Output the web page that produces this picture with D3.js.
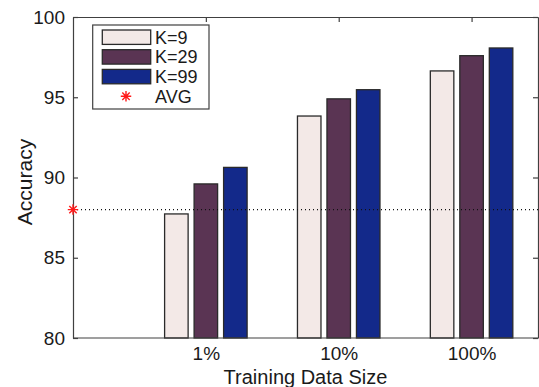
<!DOCTYPE html>
<html><head><meta charset="utf-8">
<script src="https://cdn.jsdelivr.net/npm/d3@7"></script>
<style>body{margin:0;background:#fff}svg{display:block;font-family:"Liberation Sans",Arial,Helvetica,sans-serif}</style>
</head><body><svg id="c" width="539" height="387"></svg>
<script>
const categories = ["1%", "10%", "100%"];
const seriesNames = ["K=9", "K=29", "K=99"];
const k9 = [87.73, 93.83, 96.64];
const k29 = [89.6, 94.9, 97.59];
const k99 = [90.63, 95.47, 98.07];
const avgValue = 88.0;
const yTicks = [80, 85, 90, 95, 100];
const colors = ["#f3e9e7", "#5a3453", "#13298a"];
const seriesValues = [k9, k29, k99];

const svg = d3.select("#c");
const L = 73, R = 538, T = 17, B = 338;
const x = d3.scaleLinear().domain([0, 3.5]).range([L, R]);
const y = d3.scaleLinear().domain([80, 100]).range([B, T]);
const axisColor = "#404040";
const textColor = "#1a1a1a";

// bottom axis ticks (hidden behind bars as in reference) drawn first
const xB = svg.append("g").attr("transform", `translate(0,${B})`)
  .call(d3.axisBottom(x).tickValues([1, 2, 3]).tickFormat((d, i) => categories[i]).tickSizeInner(-5).tickSizeOuter(0).tickPadding(9));

// bars
const offset = 0.222, bw = 0.177;
seriesValues.forEach((vals, s) => {
  svg.append("g").selectAll("rect").data(vals).join("rect")
    .attr("x", (d, i) => x(i + 1 + (s - 1) * offset - bw / 2))
    .attr("width", x(bw) - x(0))
    .attr("y", d => y(d))
    .attr("height", d => y(80) - y(d))
    .attr("fill", colors[s])
    .attr("stroke", "#2a2a2a")
    .attr("stroke-width", 1.3);
});

// avg dotted line
svg.append("line")
  .attr("x1", x(0)).attr("x2", x(3.5))
  .attr("y1", y(avgValue)).attr("y2", y(avgValue))
  .attr("stroke", "#111").attr("stroke-width", 1.1)
  .attr("stroke-dasharray", "1,3");

// asterisk symbol (8 arms)
const star8 = {
  draw(ctx, size) {
    const r = Math.sqrt(size) / 2;
    const d = r * Math.SQRT1_2;
    ctx.moveTo(-r, 0); ctx.lineTo(r, 0);
    ctx.moveTo(0, -r); ctx.lineTo(0, r);
    ctx.moveTo(-d, -d); ctx.lineTo(d, d);
    ctx.moveTo(-d, d); ctx.lineTo(d, -d);
  }
};

// axes
const tickFont = 19;
const yL = svg.append("g").attr("transform", `translate(${L},0)`)
  .call(d3.axisLeft(y).tickValues(yTicks).tickSizeInner(-5).tickSizeOuter(0).tickPadding(8));
const yR = svg.append("g").attr("transform", `translate(${R},0)`)
  .call(d3.axisRight(y).tickValues(yTicks).tickSizeInner(-5).tickSizeOuter(0).tickFormat(""));
const xT = svg.append("g").attr("transform", `translate(0,${T})`)
  .call(d3.axisTop(x).tickValues([1, 2, 3]).tickFormat("").tickSizeInner(-5).tickSizeOuter(0));
[yL, yR, xB, xT].forEach(g => {
  g.selectAll("path.domain").attr("stroke", axisColor).attr("stroke-width", 1.2);
  g.selectAll(".tick line").attr("stroke", axisColor).attr("stroke-width", 1.2);
  g.selectAll("text").attr("fill", textColor).style("font-size", tickFont + "px").attr("font-family", null);
});
xB.select("path.domain").remove();
svg.append("line").attr("x1", L).attr("x2", R).attr("y1", B).attr("y2", B)
  .attr("stroke", axisColor).attr("stroke-width", 1.2);

// avg marker on axis
svg.append("path")
  .attr("d", d3.symbol().type(star8).size(110)())
  .attr("transform", `translate(${x(0)},${y(avgValue)})`)
  .attr("stroke", "#ff1a1a").attr("stroke-width", 1.4).attr("fill", "none");

// axis labels
svg.append("text").attr("x", (L + R) / 2).attr("y", 383.5).attr("text-anchor", "middle")
  .style("font-size", "20px").attr("fill", textColor).text("Training Data Size");
svg.append("text").attr("transform", `translate(32,182) rotate(-90)`).attr("text-anchor", "middle")
  .style("font-size", "21px").attr("fill", textColor).text("Accuracy");

// legend
const lg = svg.append("g");
lg.append("rect").attr("x", 92.7).attr("y", 25).attr("width", 116.3).attr("height", 84)
  .attr("fill", "#fff").attr("stroke", axisColor).attr("stroke-width", 1.2);
const rowH = 19.7, row0 = 37.2;
seriesNames.forEach((n, i) => {
  lg.append("rect").attr("x", 102.3).attr("y", row0 + i * rowH - 7.2).attr("width", 48.4).attr("height", 14.4)
    .attr("fill", colors[i]).attr("stroke", "#2a2a2a").attr("stroke-width", 1.3);
  lg.append("text").attr("x", 155).attr("y", row0 + i * rowH + 6.5).style("font-size", "18px").attr("fill", textColor).text(n);
});
lg.append("path").attr("d", d3.symbol().type(star8).size(110)())
  .attr("transform", `translate(126,${row0 + 3 * rowH})`)
  .attr("stroke", "#ff1a1a").attr("stroke-width", 1.4).attr("fill", "none");
lg.append("text").attr("x", 155).attr("y", row0 + 3 * rowH + 6.5).style("font-size", "18px").attr("fill", textColor).text("AVG");
</script></body></html>
